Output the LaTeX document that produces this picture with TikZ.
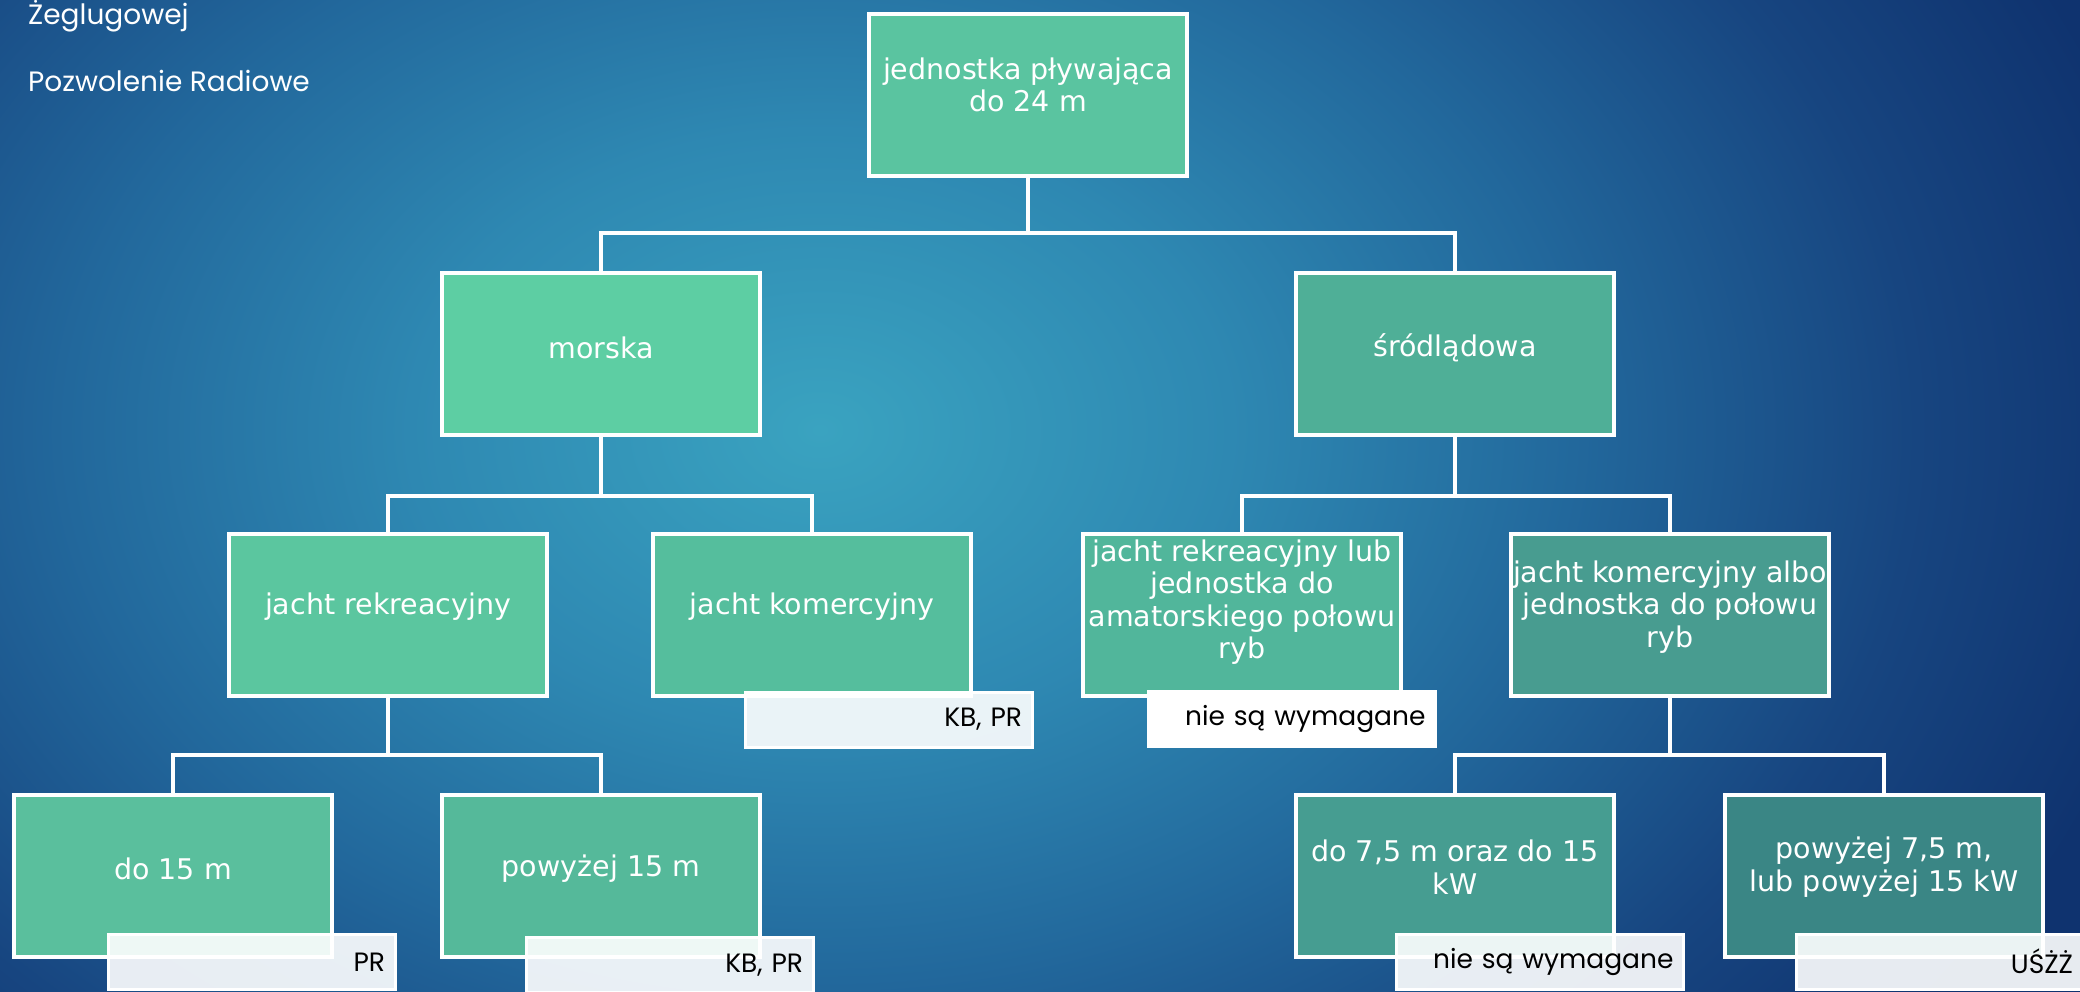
\documentclass[tikz,border=0pt]{standalone}
\usepackage{fontspec}
\setmainfont{DejaVu Sans}
\newfontfamily\gothfont{Poppins}
\definecolor{bgA}{HTML}{3AA3C0}
\definecolor{bgB}{HTML}{2E88B2}
\definecolor{bgC}{HTML}{22689C}
\definecolor{bgD}{HTML}{174580}
\definecolor{bgE}{HTML}{0F336F}
\definecolor{cRoot}{HTML}{5AC4A0}
\definecolor{cMor}{HTML}{5DCEA3}
\definecolor{cSro}{HTML}{4FAF97}
\definecolor{cJrek}{HTML}{5BC69F}
\definecolor{cJkom}{HTML}{55BE9D}
\definecolor{cJrl}{HTML}{51B69B}
\definecolor{cJka}{HTML}{489C90}
\definecolor{cDa}{HTML}{5ABF9D}
\definecolor{cPa}{HTML}{55B99A}
\definecolor{cDb}{HTML}{469D91}
\definecolor{cPb}{HTML}{3A8685}
\pgfdeclareradialshading{bgshade}{\pgfpoint{0bp}{0bp}}{color(0bp)=(bgA); color(7.5bp)=(bgB); color(13.75bp)=(bgC); color(20bp)=(bgD); color(25bp)=(bgE); color(50bp)=(bgE)}
\begin{document}
\begin{tikzpicture}[x=1pt,y=-1pt,
  box/.style={draw=white, line width=3.5pt, minimum width=318pt, minimum height=162pt, inner sep=0pt},
  btext/.style={text=white, font=\fontsize{28.5}{32.5}\selectfont, align=center, inner sep=0pt},
  lab/.style={draw=white, line width=3pt, fill=white, fill opacity=0.9, text opacity=1, minimum width=287pt, minimum height=55pt, text width=267pt, align=right, inner xsep=10pt, inner ysep=0pt, font=\gothfont\fontsize{26.5}{30}\selectfont, text=black},
  conn/.style={draw=white, line width=3.5pt},
  tl/.style={text=white, font=\gothfont\fontsize{28}{32}\selectfont, inner sep=0pt}]
\useasboundingbox (0,0) rectangle (2080,992);
\begin{scope}
\clip (0,0) rectangle (2080,992);
\shade[shading=bgshade] (-550,-570) rectangle (2190,1430);

% title texts
\node[tl, anchor=base west] (t1) at (28,25) {Żeglugowej};
\node[tl, anchor=base west] (t2) at (28,92) {Pozwolenie Radiowe};

% junction coordinates
\coordinate (j1) at (1028,233);
\coordinate (j2) at (601,496);
\coordinate (j3) at (1455,496);
\coordinate (j4) at (388,755);
\coordinate (j5) at (1670,755);

% boxes
\node[box, fill=cRoot] (root) at (1028,95) {};
\node[box, fill=cMor] (mor) at (601,354) {};
\node[box, fill=cSro] (sro) at (1455,354) {};
\node[box, fill=cJrek] (jrek) at (388,615) {};
\node[box, fill=cJkom] (jkom) at (812,615) {};
\node[box, fill=cJrl] (jrl) at (1242,615) {};
\node[box, fill=cJka] (jka) at (1670,615) {};
\node[box, fill=cDa] (da) at (173,876) {};
\node[box, fill=cPa] (pa) at (601,876) {};
\node[box, fill=cDb] (db) at (1455,876) {};
\node[box, fill=cPb] (pb) at (1884,876) {};

% connectors
\draw[conn] (root.south) -- (j1) -| (mor.north);
\draw[conn] (j1) -| (sro.north);
\draw[conn] (mor.south) -- (j2) -| (jrek.north);
\draw[conn] (j2) -| (jkom.north);
\draw[conn] (sro.south) -- (j3) -| (jrl.north);
\draw[conn] (j3) -| (jka.north);
\draw[conn] (jrek.south) -- (j4) -| (da.north);
\draw[conn] (j4) -| (pa.north);
\draw[conn] (jka.south) -- (j5) -| (db.north);
\draw[conn] (j5) -| (pb.north);

% box texts
\node[btext] (troot) at ([yshift=10pt]root.center) {jednostka pływająca\\do 24 m};
\node[btext] (tmor) at ([yshift=6pt]mor.center) {morska};
\node[btext] (tsro) at ([yshift=6pt]sro.center) {śródlądowa};
\node[btext] (tjrek) at ([yshift=8pt]jrek.center) {jacht rekreacyjny};
\node[btext] (tjkom) at ([yshift=8pt]jkom.center) {jacht komercyjny};
\node[btext] (tjrl) at ([yshift=13pt]jrl.center) {jacht rekreacyjny lub\\jednostka do\\amatorskiego połowu\\ryb};
\node[btext] (tjka) at ([yshift=8pt]jka.center) {jacht komercyjny albo\\jednostka do połowu\\ryb};
\node[btext] (tda) at ([yshift=7pt]da.center) {do 15 m};
\node[btext] (tpa) at ([yshift=7pt]pa.center) {powyżej 15 m};
\node[btext] (tdb) at ([yshift=9pt]db.center) {do 7,5 m oraz do 15\\kW};
\node[btext] (tpb) at ([yshift=9pt]pb.center) {powyżej 7,5 m,\\lub powyżej 15 kW};

% labels
\node[lab] (ljkom) at (888.5,719.5) {KB, PR};
\node[lab, fill opacity=1] (ljrl) at (1292,718.5) {nie są wymagane};
\node[lab] (lda) at (251.5,962) {PR};
\node[lab] (lpa) at (669.5,965) {KB, PR};
\node[lab] (ldb) at (1540,962) {nie są wymagane};
\node[lab] (lpb) at (1939.5,961.5) {UŚŻŻ};
\end{scope}
\end{tikzpicture}
\end{document}
